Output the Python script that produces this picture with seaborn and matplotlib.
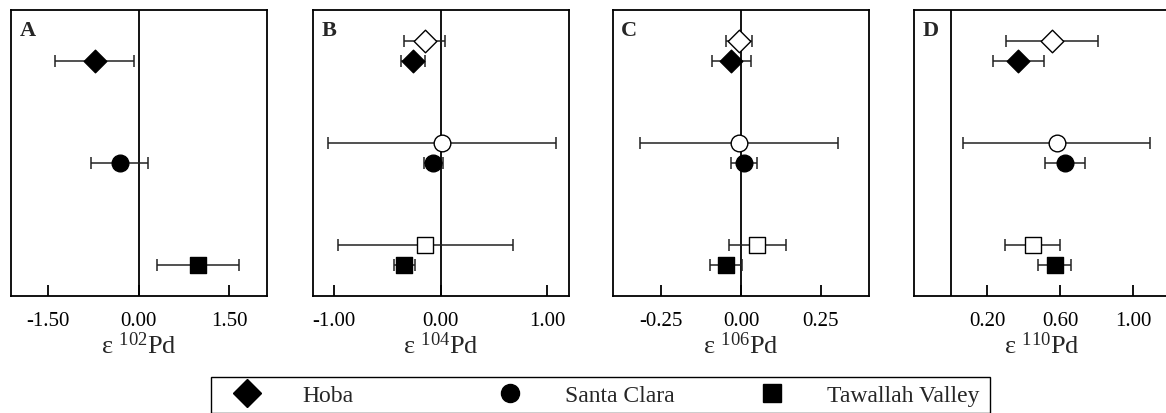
import numpy as np
import pandas as pd
import matplotlib
matplotlib.use("Agg")
import matplotlib.pyplot as plt
from matplotlib.lines import Line2D
from matplotlib.patches import Rectangle
import seaborn as sns

# ---- data ----
samples = ["Hoba", "Santa Clara", "Tawallah Valley"]
panel_letters = ["A", "B", "C", "D"]
isotopes = ["102", "104", "106", "110"]

# filled symbols
filled_102 = [-0.73, -0.31, 0.98]
filled_err_102 = [0.65, 0.47, 0.67]
filled_104 = [-0.256, -0.068, -0.342]
filled_err_104 = [0.112, 0.09, 0.10]
filled_106 = [-0.03, 0.009, -0.048]
filled_err_106 = [0.06, 0.04, 0.05]
filled_110 = [0.37, 0.625, 0.57]
filled_err_110 = [0.14, 0.11, 0.09]

# open symbols (no open symbols in panel A)
open_104 = [-0.15, 0.01, -0.145]
open_err_104 = [0.19, 1.07, 0.82]
open_106 = [-0.007, -0.007, 0.051]
open_err_106 = [0.04, 0.31, 0.09]
open_110 = [0.555, 0.58, 0.45]
open_err_110 = [0.25, 0.51, 0.15]

xticks_list = [[-1.5, 0.0, 1.5], [-1.0, 0.0, 1.0], [-0.25, 0.0, 0.25], [0.2, 0.6, 1.0]]
xlims = [(-2.11, 2.12), (-1.2, 1.2), (-0.402, 0.4), (-0.2, 1.2)]

filled_vals = [filled_102, filled_104, filled_106, filled_110]
filled_errs = [filled_err_102, filled_err_104, filled_err_106, filled_err_110]
open_vals = [None, open_104, open_106, open_110]
open_errs = [None, open_err_104, open_err_106, open_err_110]

# ---- style ----
sns.set_theme(style="white")
plt.rcParams["font.family"] = ["Liberation Serif", "DejaVu Serif"]
plt.rcParams["mathtext.fontset"] = "custom"
plt.rcParams["mathtext.rm"] = "Liberation Serif"
plt.rcParams["mathtext.it"] = "Liberation Serif:italic"
plt.rcParams["mathtext.bf"] = "Liberation Serif:bold"

markers = {"Hoba": "D", "Santa Clara": "o", "Tawallah Valley": "s"}
sizes_pt = {"Hoba": 11.5, "Santa Clara": 12, "Tawallah Valley": 12}
row = {"Hoba": 1.0, "Santa Clara": 2.0, "Tawallah Valley": 3.0}
open_offset = -0.2

W, H = 1166, 414
fig = plt.figure(figsize=(W / 100, H / 100), dpi=100)

lefts = [11, 312.7, 612.7, 914]
width = 256
top_px, bot_px = 11, 297

for i in range(4):
    ax = fig.add_axes([lefts[i] / W, 1 - bot_px / H, width / W, (bot_px - top_px) / H])
    ax.set_facecolor("white")
    ax.axvline(0, color="black", lw=1.3, zorder=1)

    groups = []
    if open_vals[i] is not None:
        groups.append(("open", open_vals[i], open_errs[i], open_offset))
    groups.append(("filled", filled_vals[i], filled_errs[i], 0.0))

    for kind, vals, errs, off in groups:
        df = pd.DataFrame({
            "Sample": samples,
            "value": vals,
            "err": errs,
            "y": [row[s] + off for s in samples],
        })
        ax.errorbar(df["value"], df["y"], xerr=df["err"], fmt="none",
                    ecolor="#222222", elinewidth=1.1, capsize=4.5, capthick=1.1, zorder=2)
        for s in samples:
            sub = df[df["Sample"] == s]
            sns.scatterplot(
                data=sub, x="value", y="y", ax=ax,
                marker=markers[s], s=sizes_pt[s] ** 2,
                color="black" if kind == "filled" else "white",
                edgecolor="black", linewidth=1.0, zorder=3, legend=False,
            )

    ax.set_xlim(*xlims[i])
    ax.set_ylim(3.3, 0.5)
    ax.set_yticks([])
    ax.set_xticks(xticks_list[i])
    ax.set_xticklabels([f"{t:.2f}" for t in xticks_list[i]])
    ax.tick_params(axis="x", direction="in", length=8, width=1.3, colors="black",
                   labelsize=15, pad=10.5, bottom=True)
    ax.set_ylabel("")
    ax.set_xlabel(r"ε $^{\mathregular{" + isotopes[i] + r"}}$Pd", fontsize=19, labelpad=1)
    for sp in ax.spines.values():
        sp.set_visible(True)
        sp.set_color("black")
        sp.set_linewidth(1.3)
    ax.text(0.033, 0.965, panel_letters[i], transform=ax.transAxes,
            fontsize=16, fontweight="bold", va="top", ha="left")

# ---- legend: one framed box with three evenly spaced entries ----
box_left, box_right, box_top, box_bottom = 211, 990, 378, 413.5
fig.add_artist(Rectangle((box_left / W, 1 - box_bottom / H),
                         (box_right - box_left) / W, (box_bottom - box_top) / H,
                         transform=fig.transFigure, fill=False, edgecolor="black",
                         linewidth=1.0, zorder=5))
handle_centers = [247, 510, 772]
legend_fs = 17
hl = 2.0  # handle length in font-size units
hl_px = hl * legend_fs * 100 / 72
leg_ms = {"Hoba": 14.5, "Santa Clara": 13, "Tawallah Valley": 13}
for s, xc in zip(samples, handle_centers):
    h = Line2D([], [], ls="none", marker=markers[s], color="black", markersize=leg_ms[s])
    fig.legend([h], [s], loc="center left",
               bbox_to_anchor=((xc - hl_px / 2) / W, 1 - 396 / H),
               frameon=False, fontsize=legend_fs, handlelength=hl,
               handletextpad=1.33, borderpad=0.0, borderaxespad=0.0)

fig.savefig("out.png", dpi=100)
